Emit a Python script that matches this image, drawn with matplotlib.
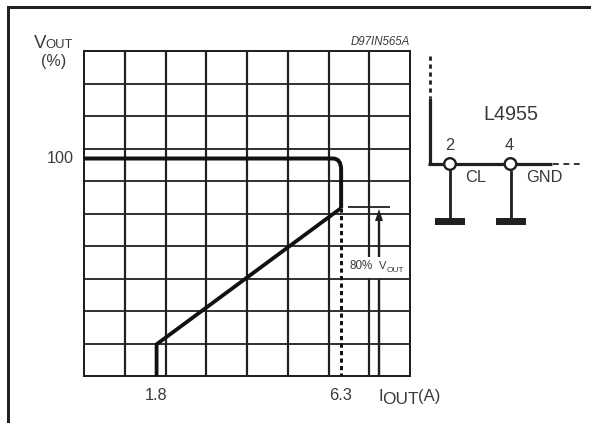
import matplotlib
matplotlib.use("Agg")
import matplotlib.pyplot as plt
from matplotlib.patches import Rectangle, Circle, Polygon, PathPatch
from matplotlib.path import Path

# Data
upper_current = [0.03, 6.1, 6.3, 6.3]
upper_vout = [100, 100, 95.5, 80]
lower_current = [6.3, 1.8, 1.8]
lower_vout = [80, 25, 12.2]
cutoff_current = [6.3, 6.3]
cutoff_vout = [80, 12.2]
x_tick_values = [1.8, 6.3]
x_tick_labels = ["1.8", "6.3"]
y_tick_values = [100]
y_tick_labels = ["100"]

W, H = 591, 423
INK = "#231f20"
TXT = "#3a3a3a"
plt.rcParams["font.family"] = ["Liberation Sans", "DejaVu Sans"]

fig = plt.figure(figsize=(W / 100, H / 100), dpi=100, facecolor="white")
px = lambda v: v * 0.72

# chart axes
L, R, T, B = 84, 410, 51, 376
ax = fig.add_axes([L / W, 1 - B / H, (R - L) / W, (B - T) / H], zorder=2)
ax.patch.set_alpha(0)
ax.set_xlim(0.03, 7.98)
ax.set_ylim(12.2, 143.4)
ax.set_xticks([])
ax.set_yticks([])
for s in ax.spines.values():
    s.set_linewidth(px(2.0))
    s.set_color(INK)

trx = ax.transAxes
for i in range(1, 8):
    ax.plot([i / 8, i / 8], [0, 1], transform=trx, color=INK, lw=px(2.2), zorder=1,
            solid_capstyle="butt")
for j in range(1, 10):
    ax.plot([0, 1], [j / 10, j / 10], transform=trx, color=INK, lw=px(1.8), zorder=1,
            solid_capstyle="butt")

# white gap behind the 80% label
ax.add_patch(Rectangle(((344 - L) / (R - L), (B - 278) / (B - T)),
                       (408 - 344) / (R - L), 21 / (B - T), transform=trx,
                       facecolor="white", edgecolor="none", zorder=2))

# curve
upper_path = Path(
    [(upper_current[0], upper_vout[0]), (upper_current[1], upper_vout[1]),
     (upper_current[2], upper_vout[1]), (upper_current[2], upper_vout[2]),
     (upper_current[3], upper_vout[3])],
    [Path.MOVETO, Path.LINETO, Path.CURVE3, Path.CURVE3, Path.LINETO])
ax.add_patch(PathPatch(upper_path, fill=False, lw=px(4), edgecolor="#111111",
                       capstyle="butt", zorder=4))
ax.plot(lower_current, lower_vout, color="#111111", lw=px(3.8), zorder=4,
        solid_joinstyle="miter", solid_capstyle="butt")
ax.plot(cutoff_current, cutoff_vout, color="#111111", lw=px(3), zorder=4,
        linestyle=(0, (1.4, 1.1)), dash_capstyle="butt")

# tick labels
for v, s in zip(x_tick_values, x_tick_labels):
    ax.annotate(s, (v, 0), xycoords=("data", "axes fraction"), xytext=(-0.5, -13.7),
                textcoords="offset points", ha="center", va="center", fontsize=11.8, color=TXT)
for v, s in zip(y_tick_values, y_tick_labels):
    ax.annotate(s, (0, v), xycoords=("axes fraction", "data"), xytext=(-7.5, 0),
                textcoords="offset points", ha="right", va="center", fontsize=11.6, color=TXT)

# pixel overlay for frame, marker, schematic and labels
ov = fig.add_axes([0, 0, 1, 1], zorder=3)
ov.set_xlim(0, W)
ov.set_ylim(H, 0)
ov.axis("off")
ov.patch.set_alpha(0)

def pl(xs, ys, lw, **k):
    ov.plot(xs, ys, color=INK, lw=px(lw), solid_capstyle="butt", dash_capstyle="butt", **k)

# frame
ov.plot([7.5, 7.5, W], [H, 7.5, 7.5], color=INK, lw=px(3), solid_joinstyle="miter")

# 80% marker
pl([348, 390], [207.5, 207.5], 1.8)
pl([379, 379], [216, 257], 2.4)
pl([379, 379], [279, 375], 2.4)
ov.add_patch(Polygon([[379, 209], [375, 221], [383, 221]], closed=True, color=INK, lw=0))

# schematic
pl([429.5, 429.5], [56, 98], 2.8, linestyle=(0, (1.5, 1.35)))
pl([429.5, 429.5], [98, 165.5], 3.2)
pl([428, 552], [164, 164], 3.2)
pl([553, 583], [164, 164], 1.8, linestyle=(0, (3.2, 2.6)))
for cx in (450, 510.5):
    pl([cx, cx], [170, 220], 2.8)
    ov.add_patch(Rectangle((cx - 15, 218.5), 30, 7, facecolor=INK, edgecolor="none"))
    ov.add_patch(Circle((cx, 164), 5.8, facecolor="white", edgecolor=INK, lw=px(2.4), zorder=5))

def t(x, y, s, fs=10, ha="left", **k):
    ov.text(x, y, s, fontsize=fs, ha=ha, va="baseline", color=TXT, **k)

t(33.5, 48, "V", 13.5)
t(45.5, 48, "OUT", 9.4)
t(40.5, 66, "(%)", 11.6)
t(350.7, 45, "D97IN565A", 8.3, style="italic")
t(483, 120, "L4955", 14.2)
t(445, 150, "2", 11.8)
t(505, 150, "4", 11.8)
t(465.5, 182.5, "CL", 11.8)
t(526.5, 182.5, "GND", 11.8)
t(349, 269, "80%", 8.4)
t(379, 269, "V", 8)
t(386.5, 271.5, "OUT", 6)
t(378, 401, "I", 12)
t(382, 404, "OUT", 12.4)
t(418, 401, "(A)", 12)

fig.savefig("out.png", dpi=100, facecolor="white")
